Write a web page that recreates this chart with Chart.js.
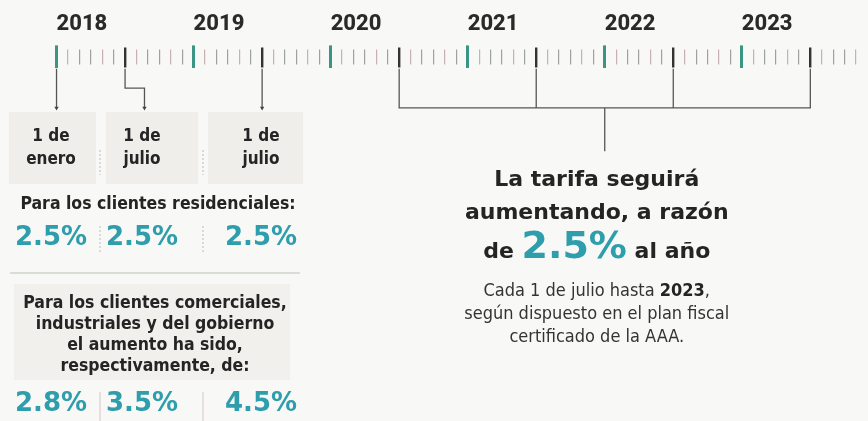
<!DOCTYPE html>
<html>
<head>
<meta charset="utf-8">
<script src="https://cdn.jsdelivr.net/npm/chart.js@4.4.1/dist/chart.umd.min.js"></script>
<style>
  html, body { margin: 0; padding: 0; background: #f8f8f6; }
  #wrap { width: 868px; height: 421px; position: relative; }
</style>
</head>
<body>
<div id="wrap"><canvas id="timeline"></canvas></div>
<script>
// Línea de tiempo: meses contados desde enero de 2018
const years = [2018, 2019, 2020, 2021, 2022, 2023];
const firstMonth = 0;
const lastMonth = 70;

// Aumentos ya aplicados
const pastChanges = [0, 6, 18];
const pastLabels = [['1 de', 'enero'], ['1 de', 'julio'], ['1 de', 'julio']];
const residential = [2.5, 2.5, 2.5];
const commercial = [2.8, 3.5, 4.5];

// Aumentos futuros (cada 1 de julio hasta 2023)
const futureChanges = [30, 42, 54, 66];
const futureRate = 2.5;
const lastYear = 2023;

const TEAL = '#2e9dac';
const DARK = '#242424';
const COND = '"DejaVu Sans Condensed", "Liberation Sans Narrow", "Roboto", sans-serif';
const HEAVY = '"DejaVu Sans", "Roboto", sans-serif';
const YEARF = '"Roboto", "Inter", sans-serif';

const monthTicks = [];
for (let m = firstMonth; m <= lastMonth; m++) monthTicks.push(m);

const fmtPct = v => v.toFixed(1) + '%';

// conectores (y en px bajo el eje)
const lineStyle = { borderColor: '#555', borderWidth: 1.3, showLine: true, pointRadius: 0 };
const arrow = (pts) => ({
    ...lineStyle,
    data: pts,
    pointStyle: 'triangle',
    rotation: 180,
    pointBackgroundColor: '#444',
    pointBorderWidth: 0,
    pointRadius: ctx => ctx.dataIndex === pts.length - 1 ? 2.5 : 0
});

const jog = pastChanges[1] + 1.7;
const mid = (futureChanges[0] + futureChanges[futureChanges.length - 1]) / 2;

const datasets = [
    arrow([{ x: pastChanges[0], y: 0 }, { x: pastChanges[0], y: 40 }]),
    arrow([{ x: pastChanges[1], y: 0 }, { x: pastChanges[1], y: 20 }, { x: jog, y: 20 }, { x: jog, y: 40 }]),
    arrow([{ x: pastChanges[2], y: 0 }, { x: pastChanges[2], y: 40 }]),
    { ...lineStyle, data: [
        { x: futureChanges[0], y: 0 }, { x: futureChanges[0], y: 40 },
        { x: futureChanges[futureChanges.length - 1], y: 40 },
        { x: futureChanges[futureChanges.length - 1], y: 0 }
    ] },
    ...futureChanges.slice(1, -1).map(m => ({ ...lineStyle, data: [{ x: m, y: 0 }, { x: m, y: 40 }] })),
    { ...lineStyle, data: [{ x: mid, y: 40 }, { x: mid, y: 84 }] }
];

// marcas del eje: año (verde), julio (oscuro), resto (gris, más cortas)
const tickColor = v => {
    if (v % 12 === 0) return '#3a9585';
    if (v % 12 === 6) return '#333';
    return v % 3 === 1 ? '#c8b0b4' : '#a0a0a0';
};
const tickWidth = v => v % 12 === 0 ? 3 : (v % 12 === 6 ? 2.4 : 1.2);
const tickDash = v => v % 12 === 0 ? [] : (v % 12 === 6 ? [0, 2, 20, 100] : [0, 4, 15, 100]);

const text = (ctx, str, x, y, font, color, align = 'center') => {
    ctx.font = font;
    ctx.fillStyle = color;
    ctx.textAlign = align;
    ctx.textBaseline = 'middle';
    ctx.fillText(str, x, y);
};

// fondos grises del panel izquierdo
const panelBg = {
    id: 'panelBg',
    beforeDraw(chart) {
        const ctx = chart.ctx;
        ctx.save();
        ctx.fillStyle = '#f0eeea';
        [[9, 112, 87, 72], [106, 112, 92, 72], [208, 112, 95, 72]].forEach(r => ctx.fillRect(...r));
        ctx.fillStyle = '#f1f0ed';
        ctx.fillRect(14, 284, 276, 96);
        ctx.strokeStyle = '#d9ddd5';
        ctx.lineWidth = 2;
        ctx.beginPath(); ctx.moveTo(10, 273); ctx.lineTo(300, 273); ctx.stroke();
        ctx.strokeStyle = '#bcbcbc';
        ctx.lineWidth = 1;
        ctx.setLineDash([2, 2]);
        [100, 203].forEach(x => {
            ctx.beginPath(); ctx.moveTo(x, 150); ctx.lineTo(x, 175); ctx.stroke();
            ctx.beginPath(); ctx.moveTo(x, 226); ctx.lineTo(x, 252); ctx.stroke();
        });
        ctx.setLineDash([]);
        ctx.strokeStyle = '#d8c4c6';
        [100, 203].forEach(x => {
            ctx.beginPath(); ctx.moveTo(x, 392); ctx.lineTo(x, 421); ctx.stroke();
        });
        ctx.restore();
    }
};

const labels = {
    id: 'labels',
    afterDatasetsDraw(chart) {
        const ctx = chart.ctx;
        const xs = chart.scales.x;
        ctx.save();
        const cols = [51, 142, 261];
        pastLabels.forEach((l, i) => {
            text(ctx, l[0], cols[i], 137, '600 17px ' + COND, DARK);
            text(ctx, l[1], cols[i], 160, '600 17px ' + COND, DARK);
        });
        text(ctx, 'Para los clientes residenciales:', 158, 204, '600 17.5px ' + COND, DARK);
        residential.forEach((v, i) => text(ctx, fmtPct(v), cols[i], 238, '700 26px ' + HEAVY, TEAL));
        ['Para los clientes comerciales,', 'industriales y del gobierno',
         'el aumento ha sido,', 'respectivamente, de:'].forEach((s, i) =>
            text(ctx, s, 155, 303 + i * 21.2, '600 17.5px ' + COND, DARK));
        commercial.forEach((v, i) => text(ctx, fmtPct(v), cols[i], 404, '700 26px ' + HEAVY, TEAL));

        // bloque derecho
        const cx = xs.getPixelForValue(mid) - 8;
        text(ctx, 'La tarifa seguirá', cx, 180, '700 22px ' + HEAVY, DARK);
        text(ctx, 'aumentando, a razón', cx, 213, '700 22px ' + HEAVY, DARK);
        const a = 'de ', b = fmtPct(futureRate), c = ' al año';
        ctx.font = '700 22px ' + HEAVY; const wa = ctx.measureText(a).width, wc = ctx.measureText(c).width;
        ctx.font = '700 38px ' + HEAVY; const wb = ctx.measureText(b).width;
        let x0 = cx - (wa + wb + wc) / 2;
        text(ctx, a, x0, 252, '700 22px ' + HEAVY, DARK, 'left');
        text(ctx, b, x0 + wa, 248, '700 38px ' + HEAVY, TEAL, 'left');
        text(ctx, c, x0 + wa + wb, 252, '700 22px ' + HEAVY, DARK, 'left');

        const sf = '400 18px ' + COND, sb = '700 18px ' + COND;
        const p1 = 'Cada 1 de julio hasta ', p2 = String(lastYear), p3 = ',';
        ctx.font = sf; const w1 = ctx.measureText(p1).width, w3 = ctx.measureText(p3).width;
        ctx.font = sb; const w2 = ctx.measureText(p2).width;
        x0 = cx - (w1 + w2 + w3) / 2;
        text(ctx, p1, x0, 291, sf, '#333', 'left');
        text(ctx, p2, x0 + w1, 291, sb, DARK, 'left');
        text(ctx, p3, x0 + w1 + w2, 291, sf, '#333', 'left');
        text(ctx, 'según dispuesto en el plan fiscal', cx, 314, sf, '#333');
        text(ctx, 'certificado de la AAA.', cx, 337, sf, '#333');
        ctx.restore();
    }
};

new Chart(document.getElementById('timeline'), {
    type: 'scatter',
    data: { datasets },
    options: {
        responsive: true,
        maintainAspectRatio: false,
        animation: false,
        layout: { padding: { top: 3, left: 0, right: 0, bottom: 0 } },
        plugins: { legend: { display: false }, tooltip: { enabled: false } },
        scales: {
            x: {
                type: 'linear',
                position: 'top',
                min: -4.6,
                max: 70.7,
                afterBuildTicks: axis => { axis.ticks = monthTicks.map(v => ({ value: v })); },
                border: { display: false },
                grid: {
                    drawOnChartArea: false,
                    drawTicks: true,
                    tickLength: 23,
                    color: ctx => tickColor(ctx.tick.value),
                    lineWidth: ctx => tickWidth(ctx.tick.value),
                    tickBorderDash: ctx => tickDash(ctx.tick.value)
                },
                ticks: {
                    autoSkip: false,
                    maxRotation: 0,
                    align: 'start',
                    padding: 8,
                    color: '#2a2a2a',
                    font: { family: YEARF, size: 22, weight: '800' },
                    callback: v => v % 12 === 0 ? String(years[v / 12]) : ''
                }
            },
            y: { type: 'linear', min: 0, max: 353, reverse: true, display: false }
        }
    },
    plugins: [panelBg, labels]
});
</script>
</body>
</html>
